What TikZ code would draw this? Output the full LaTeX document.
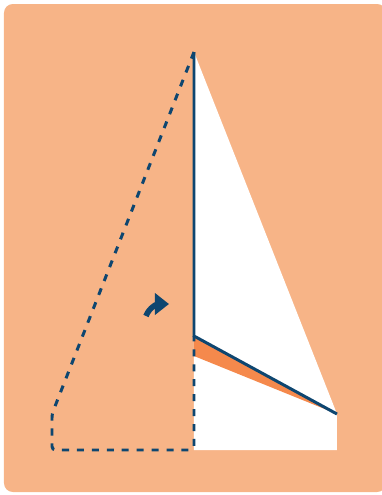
\documentclass[tikz,border=0pt]{standalone}
\usepackage{tikz}
\usetikzlibrary{arrows.meta, calc}

\definecolor{bgorange}{HTML}{F7B487}
\definecolor{darkorange}{HTML}{F5894C}
\definecolor{navy}{HTML}{0E4670}

\begin{document}
\begin{tikzpicture}[x=0.02cm, y=-0.02cm, >=Stealth,
    fold/.style={navy, line width=1.7pt},
    folddash/.style={navy, line width=1.7pt, dash pattern=on 4pt off 4.5pt}]
    \useasboundingbox (0,0) rectangle (382,495);
    % Background
    \fill[bgorange, rounded corners=5pt] (4,4) rectangle (386,492);

    % Points
    \coordinate (apex) at (194,52);
    \coordinate (crease) at (194,336);
    \coordinate (lower) at (194,356);
    \coordinate (tip) at (337,414);
    \coordinate (corner) at (337,450);
    \coordinate (base) at (194,450);
    \coordinate (left) at (52,414);
    \coordinate (leftbase) at (52,450);

    % Paper
    \fill[white] (apex) -- (base) -- (corner) -- (tip) -- cycle;
    \fill[darkorange] (crease) -- (tip) -- (lower) -- cycle;

    % Folds
    \draw[folddash, rounded corners=2pt] (apex) -- (left) -- (leftbase) -- (base) -- (crease);
    \draw[fold] (apex) -- (crease) -- (tip);

    % Arrow
    \coordinate (arrowstart) at (146,316);
    \coordinate (arrowend) at (169,304);
    \draw[navy, line width=3.2pt, -{Triangle[length=8pt, width=12pt]}]
      (arrowstart) to[out=70, in=180] (arrowend);
\end{tikzpicture}
\end{document}
